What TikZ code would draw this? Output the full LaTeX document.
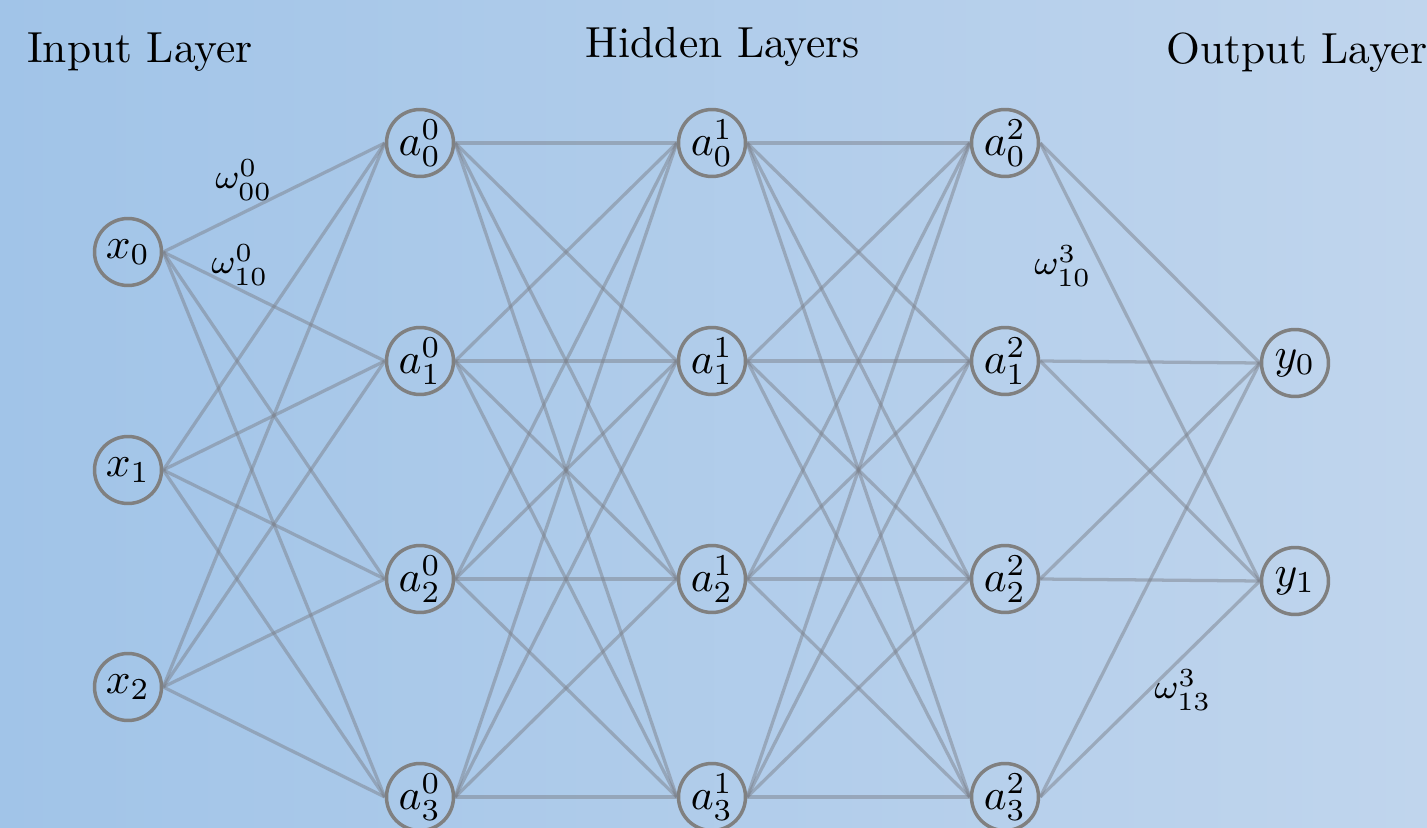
\documentclass[tikz,border=0pt]{standalone}
\begin{document}
\begin{tikzpicture}[x=0.2299pt,y=-0.2299pt,
  neuron/.style={circle,draw={rgb,255:red,128;green,128;blue,128},line width=0.8pt,minimum size=15.4pt,inner sep=0pt},
  edge/.style={draw={rgb,255:red,125;green,130;blue,140},draw opacity=0.5,line width=0.75pt},
  wlabel/.style={font=\footnotesize,inner sep=0pt},
  title/.style={anchor=base,inner sep=0pt}]
\definecolor{bgleft}{RGB}{161,196,232}
\definecolor{bgright}{RGB}{192,213,237}
\useasboundingbox (0,0) rectangle (1427,828);
\shade[left color=bgleft,right color=bgright] (0,0) rectangle (1427,828);
% nodes
\node[neuron] (x0) at (128,252) {$x_0$};
\node[neuron] (x1) at (128,470) {$x_1$};
\node[neuron] (x2) at (128,687) {$x_2$};
\foreach \l/\xx in {0/420,1/712,2/1005}{
  \foreach \j/\yy in {0/143,1/361,2/579,3/797}{
    \node[neuron] (a\l\j) at (\xx,\yy) {$a_{\j}^{\l}$};
  }
}
\node[neuron] (y0) at (1295,363) {$y_0$};
\node[neuron] (y1) at (1295,581) {$y_1$};
% edges
\foreach \i in {0,1,2}{\foreach \j in {0,...,3}{\draw[edge] (x\i.east) -- (a0\j.west);}}
\foreach \i in {0,...,3}{\foreach \j in {0,...,3}{
  \draw[edge] (a0\i.east) -- (a1\j.west);
  \draw[edge] (a1\i.east) -- (a2\j.west);}}
\foreach \i in {0,...,3}{\foreach \j in {0,1}{\draw[edge] (a2\i.east) -- (y\j.west);}}
% weight labels
\node[wlabel] (w000) at (244,180) {$\omega^0_{00}$};
\node[wlabel] (w010) at (240,265) {$\omega^0_{10}$};
\node[wlabel] (w310) at (1063,266) {$\omega^3_{10}$};
\node[wlabel] (w313) at (1183,690) {$\omega^3_{13}$};
% titles
\node[title] (tin) at (140,62) {Input Layer};
\node[title] (thid) at (723,57) {Hidden Layers};
\node[title] (tout) at (1297,63) {Output Layer};
\end{tikzpicture}
\end{document}
